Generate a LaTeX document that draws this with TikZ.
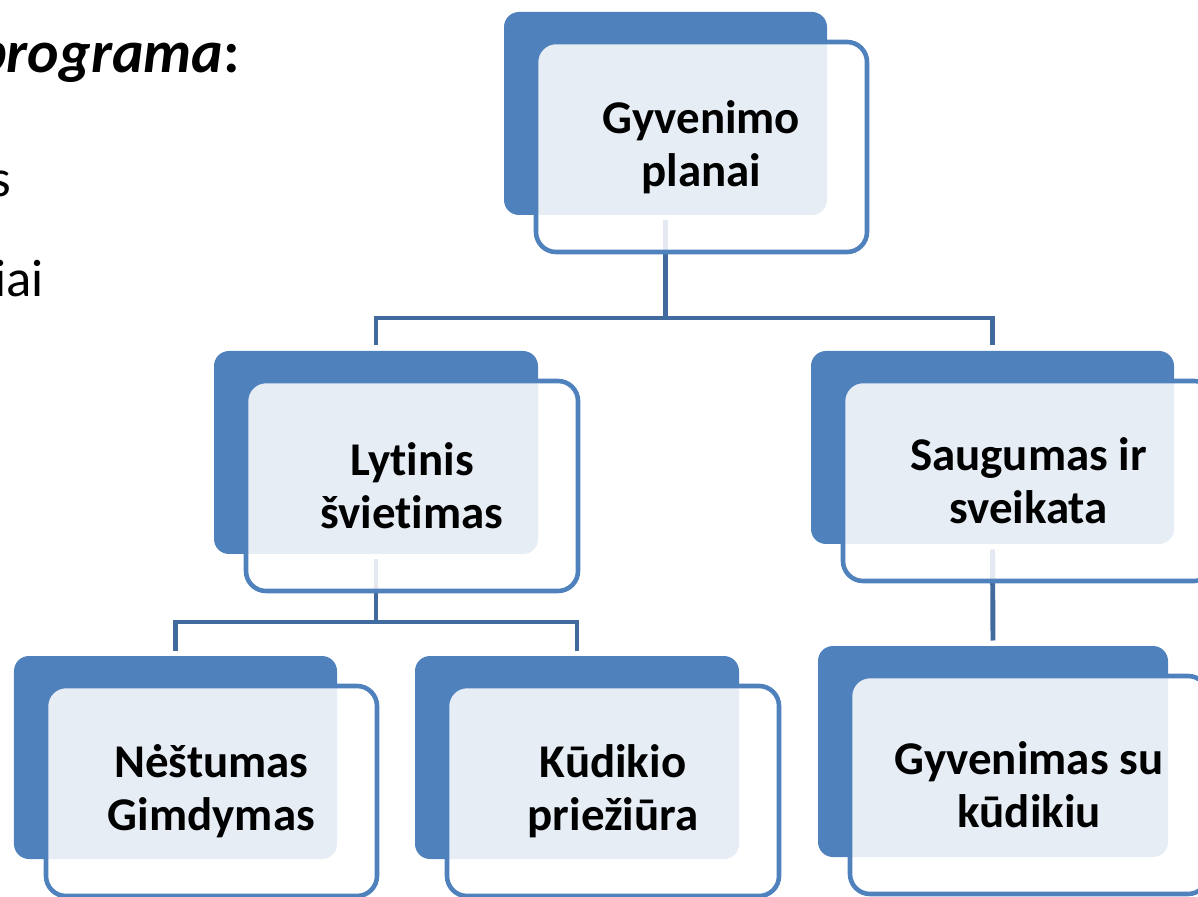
\documentclass[tikz,border=0pt]{standalone}
\usepackage{fontspec}
\setmainfont[Ligatures=NoCommon]{Carlito}
\usetikzlibrary{positioning}
\definecolor{boxblue}{HTML}{4F81BD}
\definecolor{linkblue}{HTML}{416A9E}
\begin{document}
\begin{tikzpicture}[
    back/.style={fill=boxblue, rounded corners=0.3cm, inner sep=0pt, outer sep=0.11cm},
    front/.style={draw=boxblue, line width=2.6pt, fill=white, fill opacity=0.86, text opacity=1,
        rounded corners=0.4cm, align=center, font=\bfseries\fontsize{26.7}{30.2}\selectfont},
    link/.style={draw=linkblue, line width=2.8pt},
    side/.style={anchor=base east, inner sep=0pt, font=\fontsize{30}{36}\selectfont}]
    \useasboundingbox (0,0) rectangle (23.96,17.92);
    % cut off text on the left
    \node[side, font=\fontsize{34}{40}\selectfont] (head) at (4.80,16.46) {\textbf{\textit{programa}:}};
    \node[side] (rowa) at (0.22,13.98) {s};
    \node[side] (rowb) at (0.88,11.98) {iai};
    % back boxes
    \node[back, minimum width=6.46cm, minimum height=4.06cm] (plan) at (13.31,15.65) {};
    \node[back, minimum width=6.48cm, minimum height=4.06cm] (lyt) at (7.52,8.87) {};
    \node[back, minimum width=7.26cm, minimum height=3.86cm] (saug) at (19.85,8.97) {};
    \node[back, minimum width=6.46cm, minimum height=4.06cm] (nest) at (3.51,2.77) {};
    \node[back, minimum width=6.48cm, minimum height=4.06cm] (kud) at (11.54,2.77) {};
    \node[back, minimum width=7.00cm, minimum height=4.22cm] (gyv) at (19.86,2.89) {};
    % connectors
    \coordinate (busa) at (13.31,11.56);
    \coordinate (busb) at (7.52,5.48);
    \draw[link] (plan.south) -- (busa);
    \draw[link] (lyt.north) |- (busa) -| (saug.north);
    \draw[link] (lyt.south) -- (busb);
    \draw[link] (nest.north) |- (busb) -| (kud.north);
    \draw[link] (saug.south) -- (gyv.north);
    % front boxes
    \node[front, minimum width=6.62cm, minimum height=4.20cm] (planf) at ([shift={(0.72,-0.67)}]plan.center) {Gyvenimo\\planai};
    \node[front, minimum width=6.64cm, minimum height=4.20cm] (lytf) at ([shift={(0.72,-0.67)}]lyt.center) {Lytinis\\švietimas};
    \node[front, minimum width=7.42cm, minimum height=4.00cm] (saugf) at ([shift={(0.72,-0.67)}]saug.center) {Saugumas ir\\sveikata};
    \node[front, minimum width=6.62cm, minimum height=4.20cm] (nestf) at ([shift={(0.72,-0.67)}]nest.center) {Nėštumas\\Gimdymas};
    \node[front, minimum width=6.64cm, minimum height=4.20cm] (kudf) at ([shift={(0.72,-0.67)}]kud.center) {Kūdikio\\priežiūra};
    \node[front, minimum width=7.16cm, minimum height=4.36cm] (gyvf) at ([shift={(0.72,-0.67)}]gyv.center) {Gyvenimas su\\kūdikiu};
\end{tikzpicture}
\end{document}
